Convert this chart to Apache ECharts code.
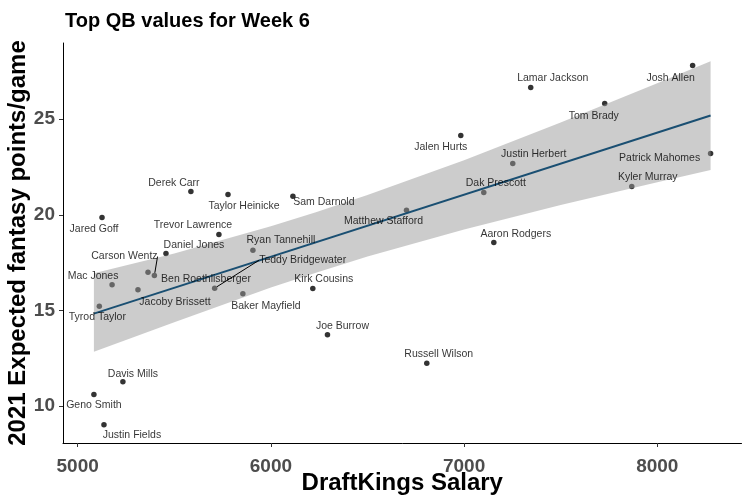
<!DOCTYPE html>
<html>
<head>
<meta charset="utf-8">
<script src="https://cdn.jsdelivr.net/npm/echarts@6/dist/echarts.min.js"></script>
<style>
html,body{margin:0;padding:0;background:#fff;}
#chart{width:749px;height:502px;}
</style>
</head>
<body>
<div id="chart"></div>
<script>
// ---- data ----
const players = ["Josh Allen","Lamar Jackson","Tom Brady","Jalen Hurts","Patrick Mahomes","Justin Herbert","Kyler Murray","Dak Prescott","Derek Carr","Taylor Heinicke","Sam Darnold","Matthew Stafford","Jared Goff","Trevor Lawrence","Aaron Rodgers","Ryan Tannehill","Daniel Jones","Carson Wentz","Ben Roethlisberger","Mac Jones","Teddy Bridgewater","Kirk Cousins","Jacoby Brissett","Baker Mayfield","Tyrod Taylor","Joe Burrow","Russell Wilson","Davis Mills","Geno Smith","Justin Fields"];
const salary = [8183,7345,7728,6983,8276,7252,7868,7102,5586,5778,6114,6702,5126,5731,7154,5907,5457,5397,5364,5178,5709,6217,5312,5855,5112,6293,6807,5234,5084,5136];
const points = [27.81,26.66,25.82,24.15,23.21,22.68,21.48,21.17,21.22,21.06,20.97,20.24,19.86,18.97,18.55,18.15,17.98,16.83,17.00,16.35,16.17,16.15,16.09,15.88,15.22,13.74,12.25,11.28,10.62,9.03];
const fitX = [5084, 8276];
const fitY = [14.84, 25.19];
const bandX = [5084, 5500, 6000, 6233, 6500, 7000, 7500, 8000, 8276];
const bandLow = [12.85, 14.39, 16.21, 16.98, 17.82, 19.24, 20.51, 21.70, 22.34];
const bandHigh = [16.95, 17.98, 19.41, 20.14, 21.04, 22.86, 24.83, 26.88, 28.03];
const xTicks = [5000, 6000, 7000, 8000];
const yTicks = [10, 15, 20, 25];

// ---- label placement (pixel offsets from each point) ----
const labelOffsets = [[-22,13],[22,-9],[-11,13],[-20,12],[-51,5],[21,-9],[16,-9],[12,-9],[-17,-8],[16,12],[31,6],[-23,11],[-8,12],[-26,-9],[22,-9],[28,-10],[28,-8],[-30,-19],[58,7],[-19,-9],[88,-28],[11,-9],[37,12],[23,12],[-2,11],[15,-9],[12,-9],[10,-8],[0,11],[28,10]];
const withLine = {"Carson Wentz":true, "Teddy Bridgewater":true};

const dots = salary.map((s,i)=>[s, points[i]]);
const labelled = salary.map((s,i)=>({
  value:[s, points[i]],
  name: players[i],
  labelLine: {show: !!withLine[players[i]]}
}));
const fitData = fitX.map((x,i)=>[x, fitY[i]]);
const bandData = bandX.map((x,i)=>[x, bandLow[i], bandHigh[i]]);

const BOLD = "'Liberation Sans',Arial,Helvetica,sans-serif";
const chart = echarts.init(document.getElementById('chart'), null, {renderer:'canvas'});
chart.setOption({
  animation:false,
  backgroundColor:'#fff',
  title:{
    text:'Top QB values for Week 6', left:60, top:6,
    textStyle:{fontFamily:BOLD, fontWeight:'bold', fontSize:20, color:'#000'}
  },
  grid:{left:63, right:7.5, top:43, bottom:59, containLabel:false, outerBoundsMode:'none'},
  xAxis:{
    type:'value', min:4924, max:8436,
    name:'DraftKings Salary', nameLocation:'middle', nameGap:28, nameMoveOverlap:false,
    nameTextStyle:{fontFamily:BOLD, fontWeight:'bold', fontSize:24, color:'#000'},
    axisLine:{show:true, onZero:false, lineStyle:{color:'#000', width:1}},
    axisTick:{show:true, length:4, lineStyle:{color:'#333'}, customValues:xTicks},
    axisLabel:{fontFamily:BOLD, fontWeight:'bold', fontSize:19, color:'#4d4d4d', margin:14, customValues:xTicks, formatter:function(v){return String(v);}},
    splitLine:{show:false}
  },
  yAxis:{
    type:'value', min:8.08, max:28.98,
    name:'2021 Expected fantasy points/game', nameLocation:'middle', nameGap:33, nameRotate:90, nameMoveOverlap:false,
    nameTextStyle:{fontFamily:BOLD, fontWeight:'bold', fontSize:24, color:'#000'},
    axisLine:{show:true, onZero:false, lineStyle:{color:'#000', width:1}},
    axisTick:{show:true, length:4, lineStyle:{color:'#333'}, customValues:yTicks},
    axisLabel:{fontFamily:BOLD, fontWeight:'bold', fontSize:19, color:'#4d4d4d', margin:8, customValues:yTicks},
    splitLine:{show:false}
  },
  series:[
    {type:'scatter', data:dots, symbol:'circle', symbolSize:5.5, itemStyle:{color:'#000'}, z:2, silent:true},
    {type:'custom', data:bandData, z:3, silent:true,
     renderItem:function(params, api){
       if (params.dataIndex !== 0) return null;
       const up = [], lo = [];
       for (let i=0;i<bandX.length;i++){
         up.push(api.coord([bandX[i], bandHigh[i]]));
         lo.push(api.coord([bandX[i], bandLow[i]]));
       }
       return {type:'polygon', shape:{points: up.concat(lo.reverse())}, style:{fill:'#999999', opacity:0.5}};
     }
    },
    {type:'line', data:fitData, symbol:'none', lineStyle:{color:'#1a4f72', width:2}, z:4, silent:true},
    {type:'scatter', data:labelled, symbol:'circle', symbolSize:5.5, itemStyle:{color:'rgba(0,0,0,0)'}, z:5, silent:true,
     label:{show:true, position:'inside', formatter:'{b}', fontFamily:"'Liberation Sans',Arial,sans-serif", fontSize:10.5, color:'#000', align:'center', verticalAlign:'middle'},
     labelLine:{show:false, lineStyle:{color:'#000', width:1}},
     labelLayout:function(p){ const o = labelOffsets[p.dataIndex]; return {dx:o[0], dy:o[1]}; }
    }
  ]
});
</script>
</body>
</html>
